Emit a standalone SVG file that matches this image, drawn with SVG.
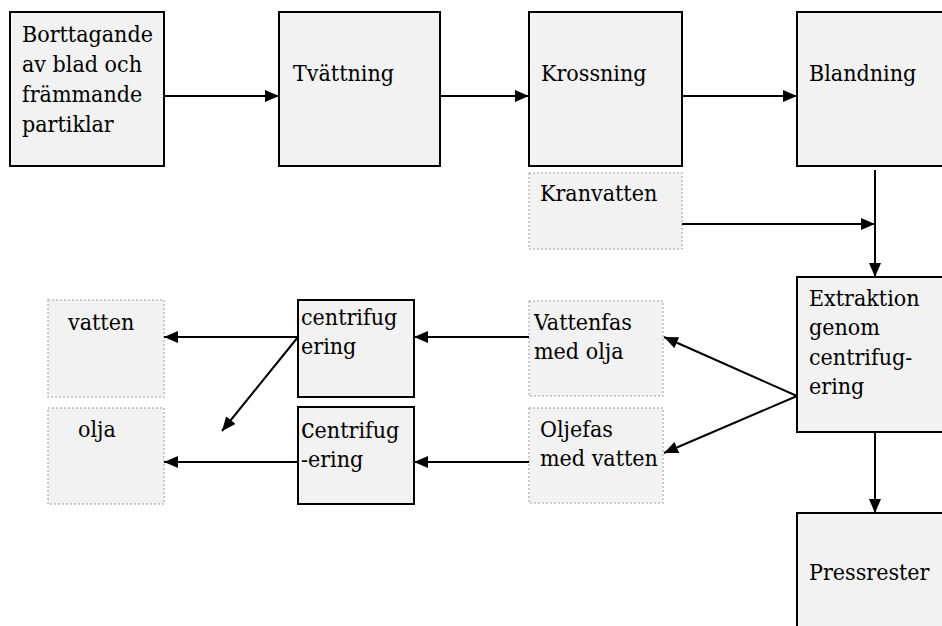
<svg xmlns="http://www.w3.org/2000/svg" width="942" height="626" viewBox="0 0 942 626">
<defs>
<marker id="ah" markerWidth="14" markerHeight="12" refX="14" refY="6" orient="auto" markerUnits="userSpaceOnUse" viewBox="0 0 14 12">
<path d="M0,0 L14,6 L0,12 z" fill="#000"/>
</marker>
<style>
.solid{fill:#f2f2f2;stroke:#000;stroke-width:2}
.dot{fill:#f2f2f2;stroke:#bdbdbd;stroke-width:1.5;stroke-dasharray:2 2}
.c line{stroke:#000;stroke-width:2;fill:none;marker-end:url(#ah)}
</style>
</defs>
<rect width="942" height="626" fill="#fff"/>
<g font-family="'DejaVu Serif Condensed', 'DejaVu Serif', serif" font-stretch="condensed" font-size="23" fill="#000">
<g id="n1"><rect class="solid" x="10" y="12" width="154" height="154"/>
<text x="22" y="42">Borttagande</text><text x="22" y="72">av blad och</text><text x="22" y="102">främmande</text><text x="22" y="132">partiklar</text></g>
<g id="n2"><rect class="solid" x="279" y="12" width="161" height="154"/><text x="293" y="81">Tvättning</text></g>
<g id="n3"><rect class="solid" x="529" y="12" width="153" height="154"/><text x="541" y="81">Krossning</text></g>
<g id="n4"><rect class="solid" x="797" y="12" width="160" height="154"/><text x="809" y="81">Blandning</text></g>
<g id="n5"><rect class="dot" x="529" y="173" width="153" height="76"/><text x="540" y="201">Kranvatten</text></g>
<g id="n6"><rect class="solid" x="797" y="277" width="160" height="155"/>
<text x="809" y="306">Extraktion</text><text x="809" y="335">genom</text><text x="809" y="365">centrifug-</text><text x="809" y="394">ering</text></g>
<g id="n7"><rect class="solid" x="797" y="513" width="160" height="130"/><text x="809" y="580">Pressrester</text></g>
<g id="n8"><rect class="dot" x="529" y="301" width="134" height="95"/><text x="534" y="330">Vattenfas</text><text x="534" y="359">med olja</text></g>
<g id="n9"><rect class="dot" x="529" y="408" width="134" height="95"/><text x="540" y="437">Oljefas</text><text x="540" y="466">med vatten</text></g>
<g id="n10"><rect class="solid" x="298" y="300" width="116" height="97"/><text x="301" y="325">centrifug</text><text x="301" y="354">ering</text></g>
<g id="n11"><rect class="solid" x="298" y="407" width="116" height="97"/><text x="301" y="438"><tspan font-size="27">c</tspan>entrifug</text><text x="301" y="467">-ering</text></g>
<g id="n12"><rect class="dot" x="48" y="300" width="116" height="97"/><text x="68" y="330">vatten</text></g>
<g id="n13"><rect class="dot" x="48" y="408" width="116" height="96"/><text x="78" y="437">olja</text></g>
</g>
<g class="c" id="connectors">
<line x1="164" y1="96" x2="279" y2="96"/>
<line x1="440" y1="96" x2="529" y2="96"/>
<line x1="682" y1="96" x2="797" y2="96"/>
<line x1="682" y1="224" x2="875" y2="224"/>
<line x1="875" y1="170" x2="875" y2="277"/>
<line x1="875" y1="432" x2="875" y2="513"/>
<line x1="797" y1="396" x2="664" y2="337"/>
<line x1="797" y1="396" x2="664" y2="453"/>
<line x1="529" y1="337" x2="414" y2="337"/>
<line x1="529" y1="462" x2="414" y2="462"/>
<line x1="298" y1="337" x2="164" y2="337"/>
<line x1="298" y1="462" x2="164" y2="462"/>
<line x1="298" y1="337" x2="222" y2="431"/>
</g>
</svg>
